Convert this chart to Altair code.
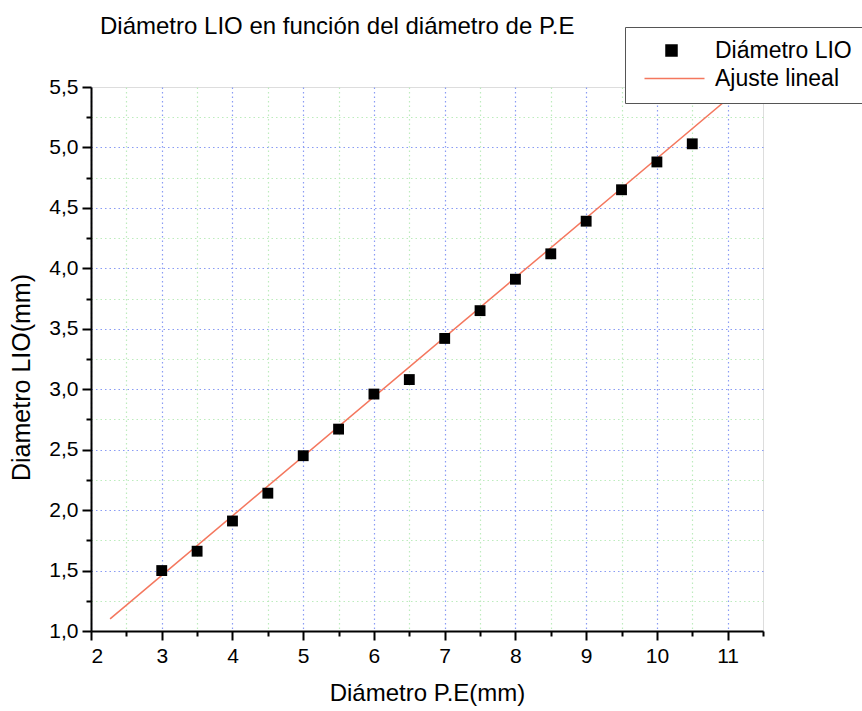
import altair as alt
import pandas as pd

# ---- data ----
x_pe = [3.0, 3.5, 4.0, 4.5, 5.0, 5.5, 6.0, 6.5, 7.0, 7.5, 8.0, 8.5, 9.0, 9.5, 10.0, 10.5]
y_lio = [1.50, 1.66, 1.91, 2.14, 2.45, 2.67, 2.96, 3.08, 3.42, 3.65, 3.91, 4.12, 4.39, 4.65, 4.88, 5.03]

fit_x = [2.27, 11.2]
fit_y = [1.10, 5.50]

x_tick_values = [2, 2.5, 3, 3.5, 4, 4.5, 5, 5.5, 6, 6.5, 7, 7.5, 8, 8.5, 9, 9.5, 10, 10.5, 11, 11.5]
y_tick_values = [1.0, 1.25, 1.5, 1.75, 2.0, 2.25, 2.5, 2.75, 3.0, 3.25, 3.5, 3.75, 4.0, 4.25,
                 4.5, 4.75, 5.0, 5.25, 5.5]

serie_pts = "Diámetro LIO"
serie_fit = "Ajuste lineal"

pts = pd.DataFrame({"x": x_pe, "y": y_lio, "serie": serie_pts})
fit = pd.DataFrame({"x": fit_x, "y": fit_y, "serie": serie_fit})

FONT = "Liberation Sans, Arial, sans-serif"
BLUE_GRID = "#8a9cf4"
GREEN_GRID = "#bdecbd"
FIT_COLOR = "#f4775e"

domain = [serie_pts, serie_fit]
color_scale = alt.Scale(domain=domain, range=["black", FIT_COLOR])
fill_scale = alt.Scale(domain=domain, range=["black", "transparent"])
# legend glyphs: a filled square and a long horizontal stroke (custom symbol paths)
shape_scale = alt.Scale(domain=domain,
                        range=["M1.75,-0.55H2.85V0.55H1.75Z", "M-0.4,0H5.6"])

legend = alt.Legend(
    title=None, orient="none", legendX=534, legendY=-60,
    labelFont=FONT, labelFontSize=23, labelColor="black",
    strokeColor="#555555", fillColor="white", padding=12,
    labelOffset=55, rowPadding=4, symbolSize=400, symbolStrokeWidth=1.5,
    symbolOpacity=1, labelLimit=400,
)

x_major = "abs(datum.value - round(datum.value)) < 0.001"
y_major = "abs(datum.value*2 - round(datum.value*2)) < 0.001"

x_axis = alt.Axis(
    values=x_tick_values,
    labelExpr=f"{x_major} ? format(datum.value, 'd') : ''",
    title="Diámetro P.E(mm)", titleFont=FONT, titleFontSize=24, titleFontWeight="normal",
    titleColor="black", titlePadding=15,
    labelFont=FONT, labelFontSize=21, labelColor="black", labelPadding=5,
    domainColor="black", domainWidth=2, tickColor="black", tickWidth=2,
    tickSize=alt.condition(x_major, alt.value(9), alt.value(5)),
    grid=True,
    gridColor=alt.condition(x_major, alt.value(BLUE_GRID), alt.value(GREEN_GRID)),
    gridOpacity=alt.condition("datum.value > 11.4", alt.value(0), alt.value(1)),
    gridDash=[1.5, 3], gridWidth=1.2,
)
y_axis = alt.Axis(
    values=y_tick_values,
    labelExpr=f"{y_major} ? replace(format(datum.value, '.1f'), '.', ',') : ''",
    title="Diametro LIO(mm)", titleFont=FONT, titleFontSize=25, titleFontWeight="normal",
    titleColor="black", titlePadding=14, titleY=290,
    labelFont=FONT, labelFontSize=21, labelColor="black", labelPadding=4,
    domainColor="black", domainWidth=2, tickColor="black", tickWidth=2,
    tickSize=alt.condition(y_major, alt.value(9), alt.value(5)),
    grid=True,
    gridColor=alt.condition(y_major, alt.value(BLUE_GRID), alt.value(GREEN_GRID)),
    gridOpacity=alt.condition("datum.value > 5.4", alt.value(0), alt.value(1)),
    gridDash=[1.5, 3], gridWidth=1.2,
)

xs = alt.Scale(domain=[2, 11.5], nice=False, zero=False)
ys = alt.Scale(domain=[1.0, 5.5], nice=False, zero=False)

line = alt.Chart(fit).mark_line(strokeWidth=1.5, clip=True, color=FIT_COLOR).encode(
    x=alt.X("x:Q", scale=xs, axis=x_axis),
    y=alt.Y("y:Q", scale=ys, axis=y_axis),
)

points = alt.Chart(pts).mark_square(size=118, color="black", opacity=1).encode(
    x=alt.X("x:Q", scale=xs, axis=x_axis),
    y=alt.Y("y:Q", scale=ys, axis=y_axis),
)

# invisible layer that only carries the legend
legend_layer = alt.Chart(pts).mark_point(opacity=0).encode(
    x=alt.X("x:Q", scale=xs, axis=x_axis),
    y=alt.Y("y:Q", scale=ys, axis=y_axis),
    color=alt.Color("serie:N", scale=color_scale, legend=legend),
    fill=alt.Fill("serie:N", scale=fill_scale, legend=legend),
    shape=alt.Shape("serie:N", scale=shape_scale, legend=legend),
)

chart = alt.layer(line, points, legend_layer).properties(
    width=672, height=544,
    title=alt.TitleParams(
        "Diámetro LIO en función del diámetro de P.E",
        anchor="start", frame="group", dx=9, offset=-31, baseline="alphabetic",
        font=FONT, fontSize=24, fontWeight="normal", color="black",
    ),
    autosize=alt.AutoSizeParams(type="none"),
    padding={"left": 91, "top": 87, "right": 99, "bottom": 80},
).configure_view(stroke=None).configure(background="white")

chart.save("out.html", embed_options={"renderer": "svg", "actions": False})
